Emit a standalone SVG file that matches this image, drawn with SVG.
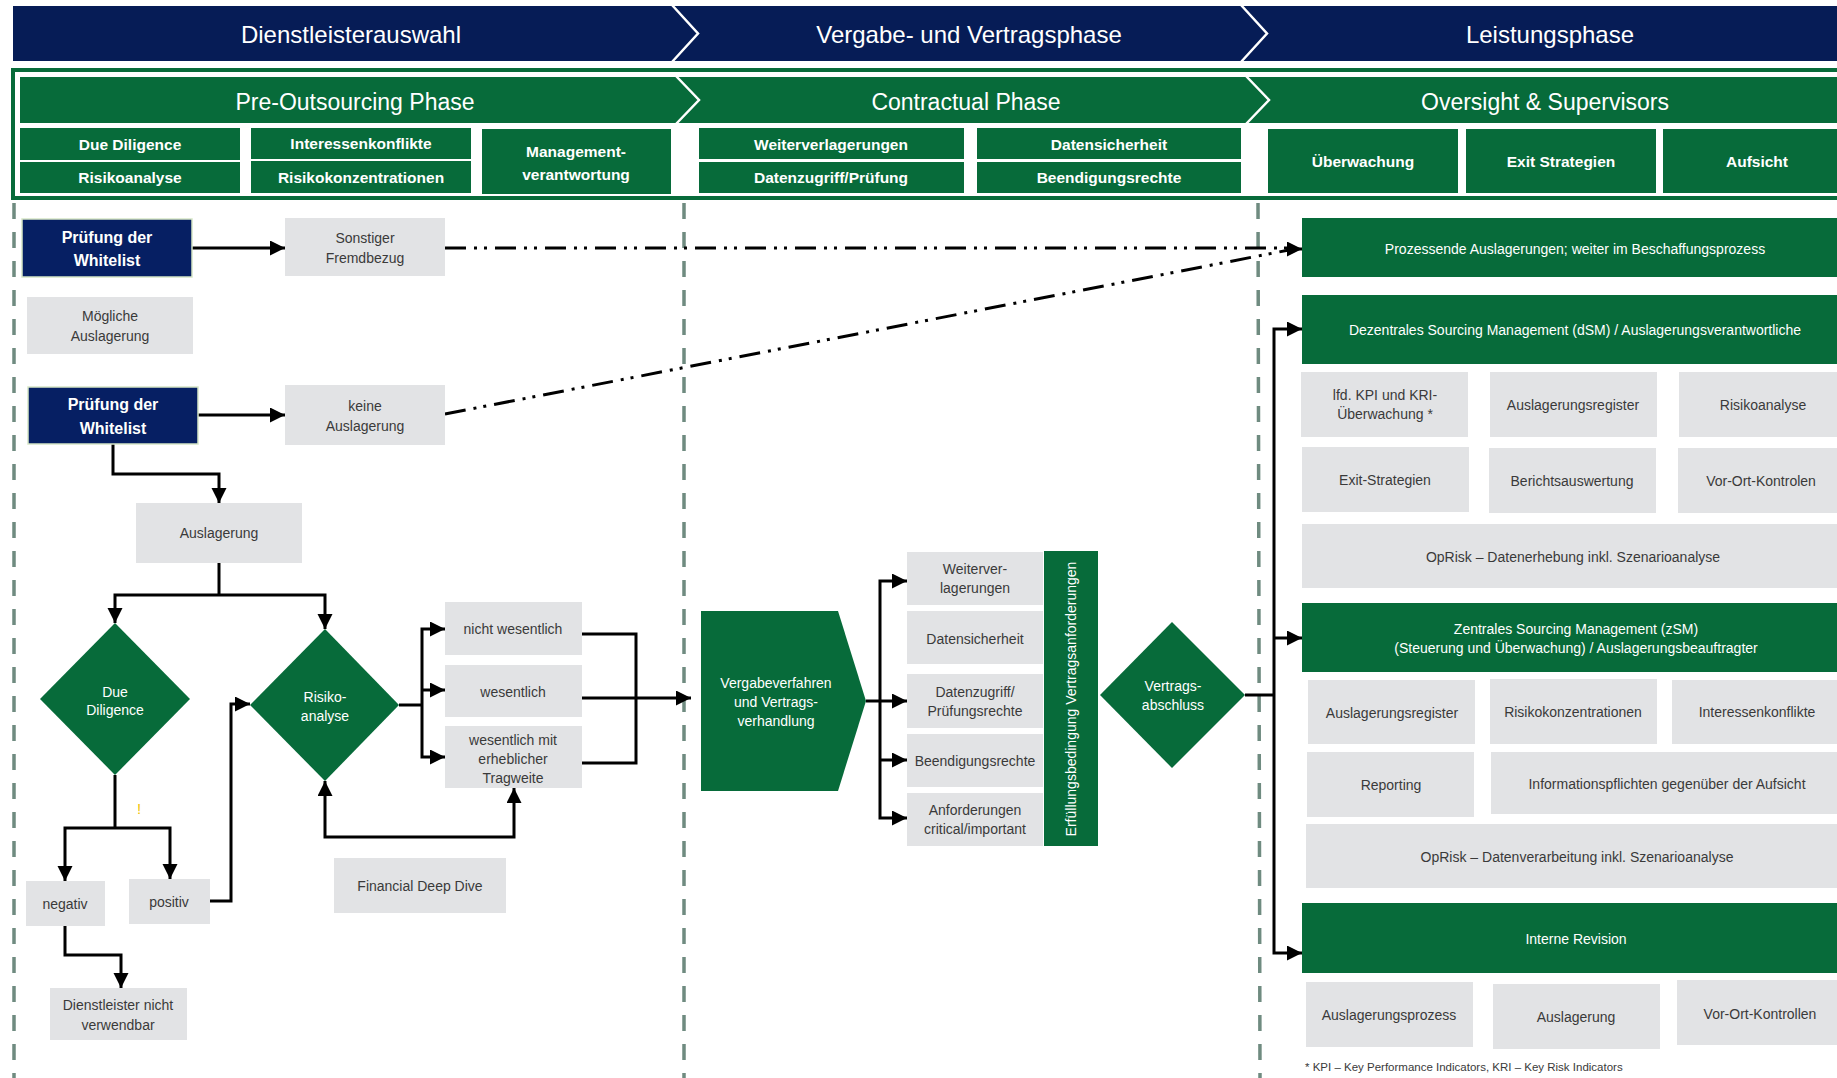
<svg xmlns="http://www.w3.org/2000/svg" width="1837" height="1078" viewBox="0 0 1837 1078">
  <style>
    .navy { fill: #061c56; }
    .green { fill: #076b3a; }
    .grey { fill: #e2e3e5; }
    .wl { fill: #061f63; stroke: #d6e6c6; stroke-width: 1.5; }
    text { font-family: "Liberation Sans", Arial, sans-serif; text-anchor: middle; }
    .hdr { fill: #ffffff; font-size: 24px; }
    .sub { fill: #ffffff; font-size: 23px; }
    .lbl { fill: #ffffff; font-size: 15.5px; font-weight: bold; }
    .wlt { fill: #ffffff; font-size: 16px; font-weight: bold; }
    .g { fill: #3a3a3a; font-size: 14px; }
    .w { fill: #ffffff; font-size: 14px; }
    .sep { fill: none; stroke: #ffffff; stroke-width: 2.5; }
    .lane { fill: none; stroke: #6f8b80; stroke-width: 3.5; stroke-dasharray: 16 13; }
    .con { fill: none; stroke: #000000; stroke-width: 3; }
    .arr { marker-end: url(#ah); }
    .both { marker-start: url(#ah); marker-end: url(#ah); }
    .dd { fill: none; stroke: #000000; stroke-width: 3; stroke-dasharray: 21 8 3 7 3 8; }
  </style>
  <defs>
    <marker id="ah" markerUnits="userSpaceOnUse" markerWidth="16" markerHeight="16" refX="15" refY="7.5" orient="auto-start-reverse">
      <path d="M0,0 L15,7.5 L0,15 Z" fill="#000000"/>
    </marker>
  </defs>

  <!-- phase band (navy) -->
  <g id="phase-band">
    <rect class="navy" x="13" y="6" width="1830" height="55"/>
    <polyline class="sep" points="672,5 698,33.5 672,62"/>
    <polyline class="sep" points="1241,5 1267,33.5 1241,62"/>
    <text class="hdr" x="351" y="43">Dienstleisterauswahl</text>
    <text class="hdr" x="969" y="43">Vergabe- und Vertragsphase</text>
    <text class="hdr" x="1550" y="43">Leistungsphase</text>
  </g>

  <!-- regulatory band (green frame) -->
  <g id="reg-band">
    <rect x="13" y="70" width="1830" height="128" fill="#ffffff" stroke="#076b3a" stroke-width="4"/>
    <rect class="green" x="20" y="77" width="1820" height="46"/>
    <polyline class="sep" points="676,76 699,100 676,124"/>
    <polyline class="sep" points="1246,76 1269,100 1246,124"/>
    <text class="sub" x="355" y="110">Pre-Outsourcing Phase</text>
    <text class="sub" x="966" y="110">Contractual Phase</text>
    <text class="sub" x="1545" y="110">Oversight &amp; Supervisors</text>
  </g>

  <g id="reg-items">
    <rect class="green" x="20" y="128" width="220" height="32"/>
    <text class="lbl" x="130" y="150">Due Diligence</text>
    <rect class="green" x="20" y="162" width="220" height="31"/>
    <text class="lbl" x="130" y="183">Risikoanalyse</text>
    <rect class="green" x="251" y="128" width="220" height="31"/>
    <text class="lbl" x="361" y="149">Interessenkonflikte</text>
    <rect class="green" x="251" y="161" width="220" height="32"/>
    <text class="lbl" x="361" y="183">Risikokonzentrationen</text>
    <rect class="green" x="482" y="129" width="189" height="65"/>
    <text class="lbl" x="576" y="157">Management-</text>
    <text class="lbl" x="576" y="180">verantwortung</text>
    <rect class="green" x="699" y="128" width="265" height="31"/>
    <text class="lbl" x="831" y="150">Weiterverlagerungen</text>
    <rect class="green" x="699" y="162" width="265" height="31"/>
    <text class="lbl" x="831" y="183">Datenzugriff/Prüfung</text>
    <rect class="green" x="977" y="128" width="264" height="31"/>
    <text class="lbl" x="1109" y="150">Datensicherheit</text>
    <rect class="green" x="977" y="162" width="264" height="31"/>
    <text class="lbl" x="1109" y="183">Beendigungsrechte</text>
    <rect class="green" x="1268" y="129" width="190" height="64"/>
    <text class="lbl" x="1363" y="167">Überwachung</text>
    <rect class="green" x="1466" y="129" width="190" height="64"/>
    <text class="lbl" x="1561" y="167">Exit Strategien</text>
    <rect class="green" x="1663" y="129" width="180" height="64"/>
    <text class="lbl" x="1757" y="167">Aufsicht</text>
  </g>

  <!-- swimlane separators -->
  <g id="lanes">
    <line class="lane" x1="14" y1="203" x2="14" y2="1078"/>
    <line class="lane" x1="684" y1="203" x2="684" y2="1078"/>
    <line class="lane" x1="1258" y1="203" x2="1260" y2="1078"/>
  </g>

  <!-- connectors -->
  <g id="connectors">
    <path class="dd" d="M445,248 H1289"/>
    <path class="dd" d="M445,414 L1289,250"/>
    <path class="con arr" d="M1286,249 H1302"/>
    <path class="con arr" d="M192,248 H285"/>
    <path class="con arr" d="M198,415 H285"/>
    <path class="con arr" d="M113,444 V474 H219 V503"/>
    <path class="con" d="M219,563 V595"/>
    <path class="con both" d="M115,623 V595 H325 V629"/>
    <path class="con" d="M115,775 V828"/>
    <path class="con both" d="M65,881 V828 H170 V879"/>
    <path class="con arr" d="M210,901 H231 V704 H250"/>
    <path class="con arr" d="M65,926 V955 H121 V988"/>
    <path class="con" d="M399,705 H422"/>
    <path class="con both" d="M445,629 H422 V757 H445"/>
    <path class="con arr" d="M422,690 H445"/>
    <path class="con both" d="M325,781 V837 H514 V788"/>
    <path class="con" d="M582,634 H636 V763 H582"/>
    <path class="con arr" d="M582,698 H691"/>
    <path class="con" d="M866,701 H880"/>
    <path class="con both" d="M907,581 H880 V818 H907"/>
    <path class="con arr" d="M880,701 H907"/>
    <path class="con arr" d="M880,760 H907"/>
    <path class="con" d="M1245,695 H1274"/>
    <path class="con both" d="M1302,329 H1274 V953 H1302"/>
    <path class="con arr" d="M1274,638 H1302"/>
  </g>

  <!-- pre-outsourcing nodes -->
  <g id="whitelist-1">
    <rect class="wl" x="22" y="219" width="170" height="58"/>
    <text class="wlt" x="107" y="243">Prüfung der</text>
    <text class="wlt" x="107" y="266">Whitelist</text>
  </g>
  <g id="sonstiger">
    <rect class="grey" x="285" y="218" width="160" height="58"/>
    <text class="g" x="365" y="243">Sonstiger</text>
    <text class="g" x="365" y="263">Fremdbezug</text>
  </g>
  <g id="moegliche">
    <rect class="grey" x="27" y="297" width="166" height="57"/>
    <text class="g" x="110" y="321">Mögliche</text>
    <text class="g" x="110" y="341">Auslagerung</text>
  </g>
  <g id="whitelist-2">
    <rect class="wl" x="28" y="387" width="170" height="57"/>
    <text class="wlt" x="113" y="410">Prüfung der</text>
    <text class="wlt" x="113" y="434">Whitelist</text>
  </g>
  <g id="keine">
    <rect class="grey" x="285" y="385" width="160" height="60"/>
    <text class="g" x="365" y="411">keine</text>
    <text class="g" x="365" y="431">Auslagerung</text>
  </g>
  <g id="auslagerung">
    <rect class="grey" x="136" y="503" width="166" height="60"/>
    <text class="g" x="219" y="538">Auslagerung</text>
  </g>
  <g id="due-diligence">
    <polygon class="green" points="115,623 190,699 115,775 40,699"/>
    <text class="w" x="115" y="697">Due</text>
    <text class="w" x="115" y="715">Diligence</text>
  </g>
  <g id="risikoanalyse">
    <polygon class="green" points="325,629 399,705 325,781 250,705"/>
    <text class="w" x="325" y="702">Risiko-</text>
    <text class="w" x="325" y="721">analyse</text>
  </g>
  <g id="hinweis">
    <text x="139" y="814" font-size="15" fill="#f2c200">!</text>
  </g>
  <g id="negativ">
    <rect class="grey" x="26" y="881" width="79" height="45"/>
    <text class="g" x="65" y="909">negativ</text>
  </g>
  <g id="positiv">
    <rect class="grey" x="129" y="879" width="81" height="45"/>
    <text class="g" x="169" y="907">positiv</text>
  </g>
  <g id="nicht-verwendbar">
    <rect class="grey" x="50" y="988" width="137" height="52"/>
    <text class="g" x="118" y="1010">Dienstleister  nicht</text>
    <text class="g" x="118" y="1030">verwendbar</text>
  </g>
  <g id="nicht-wesentlich">
    <rect class="grey" x="445" y="602" width="137" height="53"/>
    <text class="g" x="513" y="634">nicht wesentlich</text>
  </g>
  <g id="wesentlich">
    <rect class="grey" x="445" y="665" width="137" height="52"/>
    <text class="g" x="513" y="697">wesentlich</text>
  </g>
  <g id="tragweite">
    <rect class="grey" x="445" y="726" width="137" height="62"/>
    <text class="g" x="513" y="745">wesentlich mit</text>
    <text class="g" x="513" y="764">erheblicher</text>
    <text class="g" x="513" y="783">Tragweite</text>
  </g>
  <g id="financial-deep-dive">
    <rect class="grey" x="334" y="858" width="172" height="55"/>
    <text class="g" x="420" y="891">Financial Deep Dive</text>
  </g>

  <!-- contractual nodes -->
  <g id="vergabe">
    <path class="green" d="M701,611 H838 L866,701 L838,791 H701 Z"/>
    <text class="w" x="776" y="688" font-size="14.5">Vergabeverfahren</text>
    <text class="w" x="776" y="707" font-size="14.5">und Vertrags-</text>
    <text class="w" x="776" y="726" font-size="14.5">verhandlung</text>
  </g>
  <g id="c-weiterverlagerungen">
    <rect class="grey" x="907" y="552" width="136" height="53"/>
    <text class="g" x="975" y="574">Weiterver-</text>
    <text class="g" x="975" y="593">lagerungen</text>
  </g>
  <g id="c-datensicherheit">
    <rect class="grey" x="907" y="611" width="136" height="53"/>
    <text class="g" x="975" y="644">Datensicherheit</text>
  </g>
  <g id="c-datenzugriff">
    <rect class="grey" x="907" y="674" width="136" height="54"/>
    <text class="g" x="975" y="697">Datenzugriff/</text>
    <text class="g" x="975" y="716">Prüfungsrechte</text>
  </g>
  <g id="c-beendigung">
    <rect class="grey" x="907" y="734" width="136" height="53"/>
    <text class="g" x="975" y="766">Beendigungsrechte</text>
  </g>
  <g id="c-anforderungen">
    <rect class="grey" x="907" y="793" width="136" height="53"/>
    <text class="g" x="975" y="815">Anforderungen</text>
    <text class="g" x="975" y="834">critical/important</text>
  </g>
  <g id="erfuellung">
    <rect class="green" x="1044" y="551" width="54" height="295"/>
    <text class="w" font-size="15" transform="translate(1076,699) rotate(-90)">Erfüllungsbedingung  Vertragsanforderungen</text>
  </g>
  <g id="vertragsabschluss">
    <polygon class="green" points="1172,622 1245,695 1172,768 1100,695"/>
    <text class="w" x="1173" y="691">Vertrags-</text>
    <text class="w" x="1173" y="710">abschluss</text>
  </g>

  <!-- oversight nodes -->
  <g id="prozessende">
    <rect class="green" x="1302" y="218" width="540" height="59"/>
    <text class="w" x="1575" y="254">Prozessende Auslagerungen; weiter im Beschaffungsprozess</text>
  </g>
  <g id="dsm">
    <rect class="green" x="1302" y="295" width="540" height="69"/>
    <text class="w" x="1575" y="335">Dezentrales Sourcing Management (dSM) / Auslagerungsverantwortliche</text>
  </g>
  <g id="dsm-kpi">
    <rect class="grey" x="1301" y="372" width="167" height="65"/>
    <text class="g" x="1385" y="400">lfd. KPI und KRI-</text>
    <text class="g" x="1385" y="419">Überwachung *</text>
  </g>
  <g id="dsm-register">
    <rect class="grey" x="1490" y="372" width="167" height="65"/>
    <text class="g" x="1573" y="410">Auslagerungsregister</text>
  </g>
  <g id="dsm-risiko">
    <rect class="grey" x="1679" y="372" width="163" height="65"/>
    <text class="g" x="1763" y="410">Risikoanalyse</text>
  </g>
  <g id="dsm-exit">
    <rect class="grey" x="1302" y="447" width="167" height="65"/>
    <text class="g" x="1385" y="485">Exit-Strategien</text>
  </g>
  <g id="dsm-bericht">
    <rect class="grey" x="1489" y="448" width="167" height="65"/>
    <text class="g" x="1572" y="486">Berichtsauswertung</text>
  </g>
  <g id="dsm-vorort">
    <rect class="grey" x="1678" y="448" width="164" height="65"/>
    <text class="g" x="1761" y="486">Vor-Ort-Kontrolen</text>
  </g>
  <g id="dsm-oprisk">
    <rect class="grey" x="1302" y="524" width="540" height="64"/>
    <text class="g" x="1573" y="562">OpRisk – Datenerhebung inkl. Szenarioanalyse</text>
  </g>
  <g id="zsm">
    <rect class="green" x="1302" y="603" width="540" height="69"/>
    <text class="w" x="1576" y="634">Zentrales Sourcing Management (zSM)</text>
    <text class="w" x="1576" y="653">(Steuerung und Überwachung) / Auslagerungsbeauftragter</text>
  </g>
  <g id="zsm-register">
    <rect class="grey" x="1308" y="680" width="167" height="64"/>
    <text class="g" x="1392" y="718">Auslagerungsregister</text>
  </g>
  <g id="zsm-konzentration">
    <rect class="grey" x="1490" y="679" width="167" height="65"/>
    <text class="g" x="1573" y="717">Risikokonzentrationen</text>
  </g>
  <g id="zsm-konflikte">
    <rect class="grey" x="1672" y="680" width="170" height="64"/>
    <text class="g" x="1757" y="717">Interessenkonflikte</text>
  </g>
  <g id="zsm-reporting">
    <rect class="grey" x="1307" y="752" width="167" height="65"/>
    <text class="g" x="1391" y="790">Reporting</text>
  </g>
  <g id="zsm-info">
    <rect class="grey" x="1491" y="752" width="351" height="62"/>
    <text class="g" x="1667" y="789">Informationspflichten gegenüber der Aufsicht</text>
  </g>
  <g id="zsm-oprisk">
    <rect class="grey" x="1306" y="824" width="536" height="64"/>
    <text class="g" x="1577" y="862">OpRisk – Datenverarbeitung inkl. Szenarioanalyse</text>
  </g>
  <g id="revision">
    <rect class="green" x="1302" y="903" width="540" height="70"/>
    <text class="w" x="1576" y="944">Interne Revision</text>
  </g>
  <g id="rev-prozess">
    <rect class="grey" x="1306" y="982" width="167" height="65"/>
    <text class="g" x="1389" y="1020">Auslagerungsprozess</text>
  </g>
  <g id="rev-auslagerung">
    <rect class="grey" x="1493" y="984" width="167" height="65"/>
    <text class="g" x="1576" y="1022">Auslagerung</text>
  </g>
  <g id="rev-vorort">
    <rect class="grey" x="1677" y="980" width="165" height="65"/>
    <text class="g" x="1760" y="1019">Vor-Ort-Kontrollen</text>
  </g>
  <g id="footnote">
    <text x="1305" y="1071" font-size="11.5" fill="#3a3a3a" style="text-anchor:start">* KPI – Key Performance Indicators, KRI – Key Risk Indicators</text>
  </g>
</svg>
